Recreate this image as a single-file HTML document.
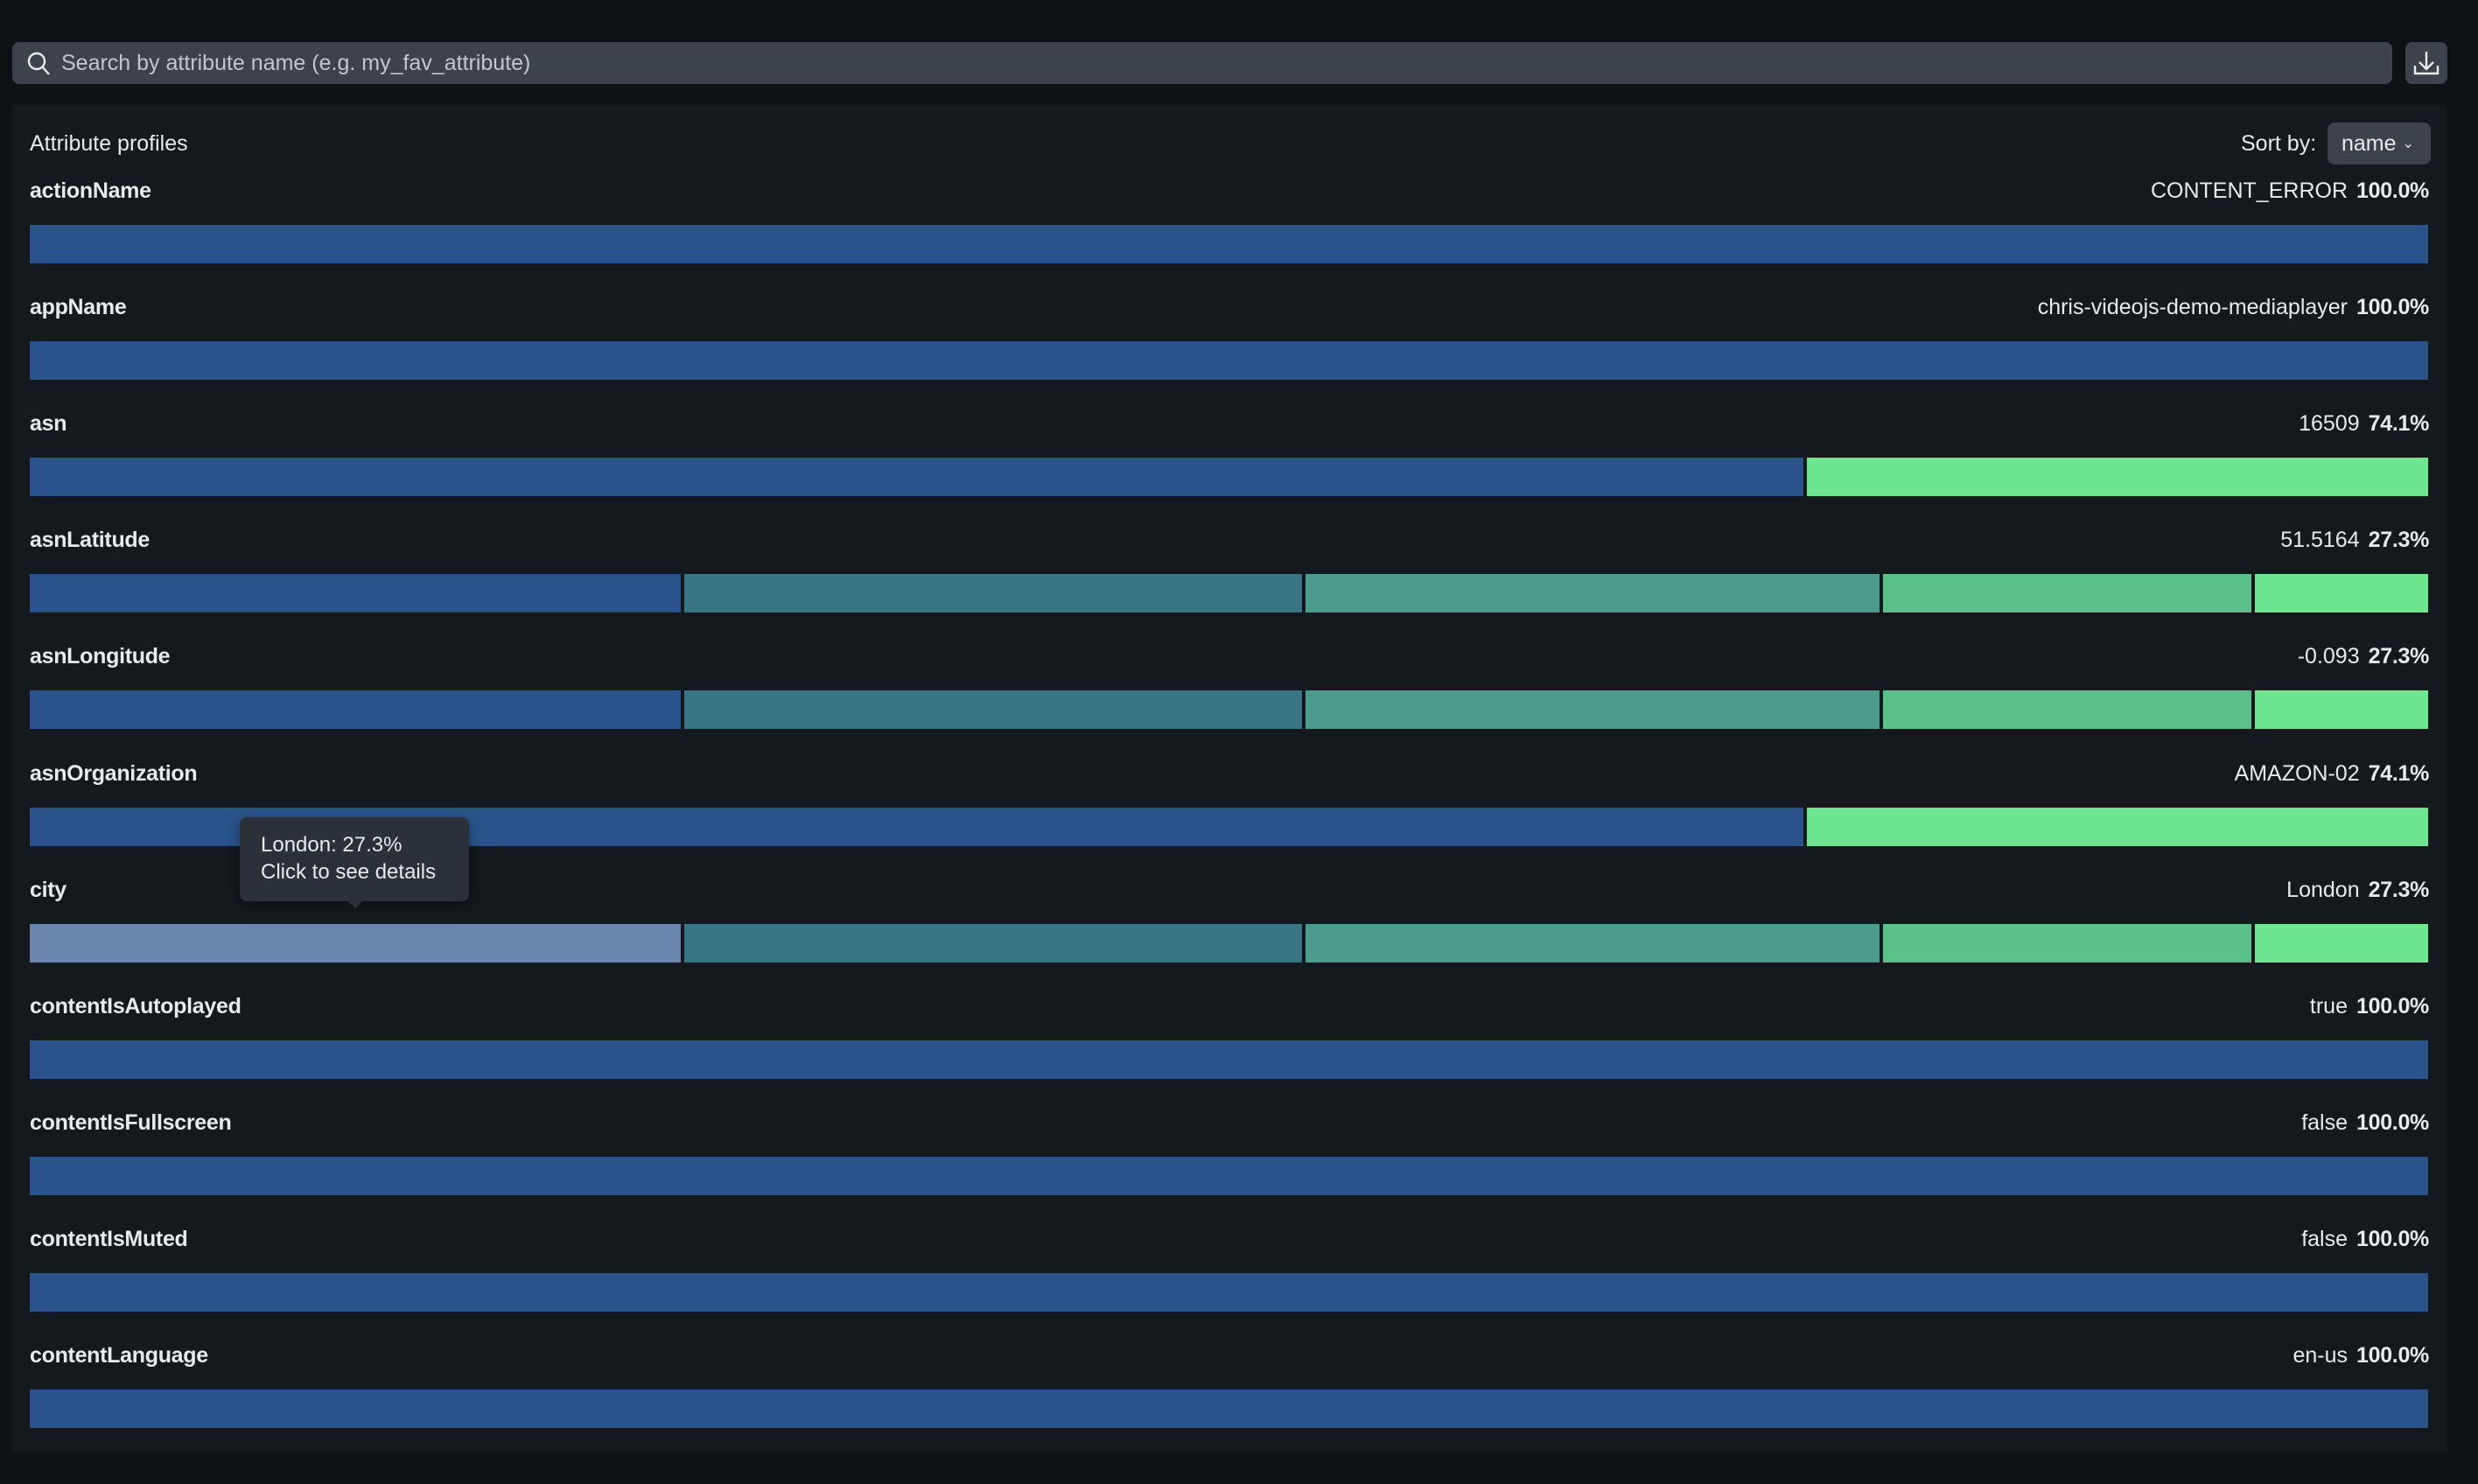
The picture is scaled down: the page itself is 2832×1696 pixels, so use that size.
<!DOCTYPE html>
<html><head><meta charset="utf-8"><style>
*{margin:0;padding:0;box-sizing:border-box}
body{width:2832px;height:1696px;background:#0f1214;position:relative;overflow:hidden;font-family:"Liberation Sans",sans-serif;color:#e8eaec}
.abs{position:absolute}
.search{left:14px;top:48px;width:2720px;height:48px;background:#3d434a;border-radius:8px}
.search span{position:absolute;left:56px;top:10px;font-size:25px;color:#c3c7cb}
.dl{left:2749px;top:48px;width:48px;height:48px;background:#3d434a;border-radius:8px}
.panel{left:14px;top:120px;width:2783px;height:1540px;background:#13191c}
.lbl{position:absolute;left:34px;font-size:25px;font-weight:bold;line-height:30px;letter-spacing:-0.3px}
.val{position:absolute;right:56px;font-size:25px;line-height:30px;text-align:right}
.val b{margin-left:10px;letter-spacing:-0.3px}
.bar{position:absolute;left:34px;width:2741px;height:44px;background:#29538a;overflow:hidden}
.seg{position:absolute;top:0;height:44px}
</style></head><body>
<div class="abs search"><svg class="abs" style="left:16px;top:10px" width="30" height="30" viewBox="0 0 30 30"><circle cx="12" cy="12" r="9" fill="none" stroke="#e8eaec" stroke-width="2.4"/><line x1="18.5" y1="18.5" x2="26" y2="27" stroke="#e8eaec" stroke-width="2.4"/></svg><span>Search by attribute name (e.g. my_fav_attribute)</span></div>
<div class="abs dl"><svg width="48" height="48" viewBox="0 0 48 48"><path d="M24 11v20M16 23l8 8 8-8M11 27v9h26v-9" fill="none" stroke="#e8eaec" stroke-width="2.4"/></svg></div>
<div class="abs panel"></div>
<div class="abs" style="left:34px;top:150px;font-size:25px">Attribute profiles</div>
<div class="abs" style="left:2561px;top:150px;font-size:25px">Sort by:</div>
<div class="abs" style="left:2660px;top:140px;width:118px;height:48px;background:#3d434a;border-radius:8px;font-size:25px;line-height:48px;padding-left:16px">name <span style="font-size:16px;position:relative;top:-3px">&#8964;</span></div>

<div id="rows"></div>
<script>
var rows=[["actionName","CONTENT_ERROR","100.0%",0],["appName","chris-videojs-demo-mediaplayer","100.0%",0],["asn","16509","74.1%",1],["asnLatitude","51.5164","27.3%",2],["asnLongitude","-0.093","27.3%",2],["asnOrganization","AMAZON-02","74.1%",1],["city","London","27.3%",3],["contentIsAutoplayed","true","100.0%",0],["contentIsFullscreen","false","100.0%",0],["contentIsMuted","false","100.0%",0],["contentLanguage","en-us","100.0%",0]];
var h="";
rows.forEach(function(r,i){
 var top=257+133.1*i;
 h+='<div class="lbl" style="top:'+(top-54)+'px">'+r[0]+'</div>';
 h+='<div class="val" style="top:'+(top-54)+'px">'+r[1]+'<b>'+r[2]+'</b></div>';
 var bg=r[3]==0?'#29538a':'#13191c';
 h+='<div class="bar" style="top:'+top+'px;background:'+bg+'">';
 if(r[3]==1){h+='<div class="seg" style="left:0;width:2027px;background:#29538a"></div><div class="seg" style="left:2031px;width:710px;background:#6ee58f"></div>';}
 if(r[3]>=2){
  var s=[[0,744,r[3]==3?'#6a86ab':'#29538a'],[748,706,'#3a7585'],[1458,656,'#4c9c8b'],[2118,421,'#5bc08a'],[2543,198,'#6ee58f']];
  s.forEach(function(q){h+='<div class="seg" style="left:'+q[0]+'px;width:'+q[1]+'px;background:'+q[2]+'"></div>';});
 }
 h+='</div>';
});
document.getElementById('rows').innerHTML=h;
</script>
<div class="abs" style="left:274px;top:934px;width:262px;height:96px;background:#2b3138;border-radius:8px;font-size:24px;line-height:31px;padding:16px 0 0 24px;box-shadow:0 4px 14px rgba(0,0,0,.35)">London: 27.3%<br>Click to see details</div>
<div class="abs" style="left:397px;top:1029px;width:0;height:0;border-left:9px solid transparent;border-right:9px solid transparent;border-top:9px solid #2b3138"></div>
</body></html>
